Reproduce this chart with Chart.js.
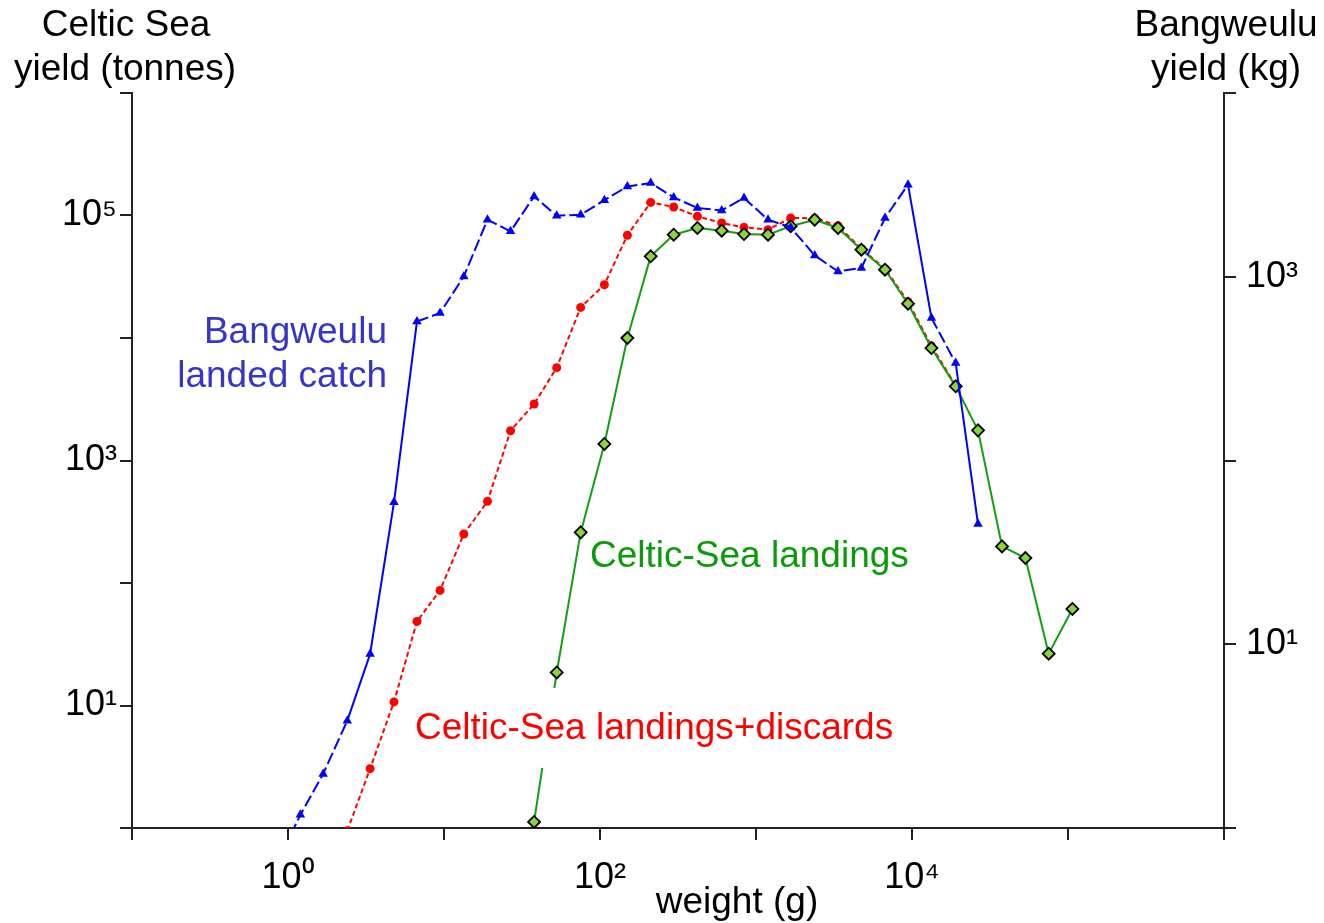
<!DOCTYPE html>
<html><head><meta charset="utf-8">
<script src="https://cdn.jsdelivr.net/npm/chart.js@4/dist/chart.umd.min.js"></script>
<style>html,body{margin:0;padding:0;background:#fff}canvas{display:block}</style>
</head><body>
<canvas id="c" width="1324" height="923"></canvas>
<script>
// ---- data ----
const weights = [0.85,1.20,1.68,2.40,3.36,4.78,6.71,9.43,13.4,19.0,26.7,37.8,52.8,75.2,106.7,149.8,211.3,296.8,421.1,602.7,837.7,1194,1669,2378,3355,4739,6713,9428,13320,19060,26490,37760,53330,75200,106700];
const bangweuluCatch = [0.64,1.18,1.97,3.84,8.85,59.2,571,635,1004,2044,1766,2737,2148,2176,2610,3102,3236,2703,2367,2297,2683,2044,1856,1307,1069,1116,2088,3170,597,339,45.1,null,null,null,null];
const celticLandingsDiscards = [null,null,null,0.95,3.05,10.7,48.6,87.0,251,464,1750,2892,5725,17780,27230,69000,127900,117300,98400,86900,80000,76600,95400,95000,82600,53500,36800,19800,8600,4100,null,null,null,null,null];
const celticLandings = [null,null,null,null,null,null,null,null,null,null,null,1.12,18.6,259,1364,10000,46400,69700,79100,75100,70600,69700,81800,92400,79100,52600,36100,19050,8280,4030,1762,199,160,26.5,61.4];

const xTickExponents = [-1,0,1,2,3,4,5,6];
const xLabelExponents = [0,2,4];
const leftTickExponents = [0,1,2,3,4,5,6];
const leftLabelExponents = [1,3,5];
const rightTickExponents = [0,1,2,3,4];
const rightLabelExponents = [1,3];

const SUP = {'0':'\u2070','1':'\u00B9','2':'\u00B2','3':'\u00B3','4':'\u2074','5':'\u2075','6':'\u2076'};
function labelFor(v, exps){
  const e = Math.round(Math.log10(v));
  return exps.includes(e) ? '10' + SUP[String(e)] : '';
}
function toPoints(arr){
  return weights.map((w,i)=>({x:w,y:arr[i]})).filter(p=>p.y!==null);
}
const FAMILY = '"Liberation Sans", Arial, Helvetica, sans-serif';

function segLen(ctx){
  const dx = ctx.p1.x - ctx.p0.x, dy = ctx.p1.y - ctx.p0.y;
  return Math.sqrt(dx*dx + dy*dy);
}

const textPlugin = {
  id: 'texts',
  afterDatasetsDraw(chart){
    const ctx = chart.ctx;
    ctx.save();
    ctx.font = '37px ' + FAMILY;
    ctx.textBaseline = 'middle';
    // Bangweulu annotation
    ctx.fillStyle = '#3535CC';
    ctx.textAlign = 'right';
    ctx.fillText('Bangweulu', 387, 333);
    ctx.fillText('landed catch', 387, 377);
    // Celtic-Sea landings
    ctx.fillStyle = '#0A9A0A';
    ctx.textAlign = 'left';
    ctx.fillText('Celtic-Sea landings', 590, 557);
    // Celtic-Sea landings+discards (with white box)
    ctx.fillStyle = '#FFFFFF';
    ctx.fillRect(405, 688, 500, 80);
    ctx.fillStyle = '#FF0000';
    ctx.fillText('Celtic-Sea landings+discards', 415, 729);
    ctx.restore();
  },
  afterDraw(chart){
    const ctx = chart.ctx;
    ctx.save();
    ctx.font = '37px ' + FAMILY;
    ctx.fillStyle = '#000';
    ctx.textAlign = 'center';
    ctx.textBaseline = 'alphabetic';
    ctx.fillText('Celtic Sea', 126, 36);
    ctx.fillText('yield (tonnes)', 125, 80);
    ctx.fillText('Bangweulu', 1226, 36);
    ctx.fillText('yield (kg)', 1226, 80);
    ctx.fillText('weight (g)', 737, 913);
    ctx.restore();
  }
};

const tickFont = {family: FAMILY, size: 36};
const gridOpts = {display:true, drawOnChartArea:false, drawTicks:true, tickLength:12, color:'#222', lineWidth:2};
const borderOpts = {display:true, color:'#222', width:2};

new Chart(document.getElementById('c'), {
  type: 'line',
  data: {
    datasets: [
      {
        label: 'Bangweulu landed catch',
        data: toPoints(bangweuluCatch),
        yAxisID: 'y2',
        borderColor: '#0000FF',
        backgroundColor: '#0000FF',
        borderWidth: 2,
        pointStyle: 'triangle',
        pointRadius: 5.5,
        pointBorderWidth: 0,
        pointBackgroundColor: '#0000FF',
        segment: { borderDash: c => segLen(c) > 65 ? [] : [12,4] },
        clip: 0
      },
      {
        label: 'Celtic-Sea landings',
        data: toPoints(celticLandings),
        yAxisID: 'y',
        borderColor: '#12A012',
        borderWidth: 2,
        pointStyle: 'rectRot',
        pointRadius: 6,
        pointBackgroundColor: '#8CD43C',
        pointBorderColor: '#000000',
        pointBorderWidth: 1.8,
        clip: 0
      },
      {
        label: 'Celtic-Sea landings+discards',
        data: toPoints(celticLandingsDiscards),
        yAxisID: 'y',
        borderColor: '#FF0000',
        borderWidth: 2,
        borderDash: [5,3],
        pointStyle: 'circle',
        pointRadius: 4.5,
        pointBackgroundColor: '#FF0000',
        pointBorderWidth: 0,
        clip: 0
      }
    ]
  },
  options: {
    responsive: false,
    devicePixelRatio: 1,
    animation: false,
    layout: { padding: { top: 93, left: 0, right: 0, bottom: 0 } },
    elements: { line: { tension: 0 } },
    plugins: { legend: {display:false}, tooltip: {enabled:false} },
    scales: {
      x: {
        type: 'logarithmic', position: 'bottom', min: 0.1, max: 1e6,
        afterBuildTicks: s => { s.ticks = xTickExponents.map(e => ({value: Math.pow(10, e)})); },
        afterFit: s => { s.height = 95; },
        ticks: { callback: v => labelFor(v, xLabelExponents), font: tickFont, color:'#000', padding: 16, autoSkip:false, maxRotation:0 },
        grid: gridOpts, border: borderOpts
      },
      y: {
        type: 'logarithmic', position: 'left', min: 1, max: 1e6,
        afterBuildTicks: s => { s.ticks = leftTickExponents.map(e => ({value: Math.pow(10, e)})); },
        afterFit: s => { s.width = 132; },
        ticks: { callback: v => labelFor(v, leftLabelExponents), font: tickFont, color:'#000', padding: 3, autoSkip:false },
        grid: gridOpts, border: borderOpts
      },
      y2: {
        type: 'logarithmic', position: 'right', min: 1, max: 1e4,
        afterBuildTicks: s => { s.ticks = rightTickExponents.map(e => ({value: Math.pow(10, e)})); },
        afterFit: s => { s.width = 100; },
        ticks: { callback: v => labelFor(v, rightLabelExponents), font: tickFont, color:'#000', padding: 10, autoSkip:false },
        grid: gridOpts, border: borderOpts
      }
    }
  },
  plugins: [textPlugin]
});
</script>
</body></html>
